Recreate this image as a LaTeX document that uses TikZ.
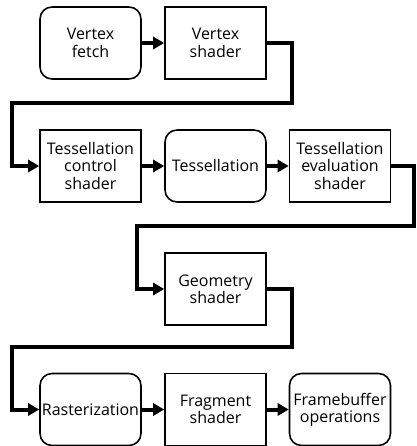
\documentclass[tikz,border=0pt]{standalone}
\usepackage{fontspec}
\setmainfont{Open Sans}
\usetikzlibrary{arrows.meta}
\tikzset{Prog/.style={draw,line width=0.9pt,minimum width=2.02cm,minimum height=1.44cm,
    align=center,font=\fontsize{9.1}{9.9}\selectfont,inner sep=1pt},
  Fixed/.style={Prog,rounded corners=0.24cm},
  flow/.style={line width=0.08cm,-{Triangle[length=0.22cm,width=0.24cm]}}}

\begin{document}
\begin{tikzpicture}[x=0.02cm,y=-0.02cm]
    \useasboundingbox (0,0) rectangle (416,446);
    \node[Fixed] (vf) at (90.5,43) {Vertex\\fetch};
    \node[Prog] (vs) at (215.5,43) {Vertex\\shader};
    \node[Prog] (tcs) at (90.5,166) {Tessellation\\control\\shader};
    \node[Fixed] (tess) at (215.5,166) {Tessellation};
    \node[Prog] (tes) at (340,166) {Tessellation\\evaluation\\shader};
    \node[Prog] (gs) at (215.5,289) {Geometry\\shader};
    \node[Fixed] (ras) at (90.5,409.5) {Rasterization};
    \node[Prog] (fs) at (215.5,409.5) {Fragment\\shader};
    \node[Fixed] (fbo) at (340,409.5) {Framebuffer\\operations};
    % turning points of the long connectors
    \coordinate (c1) at (292,103);
    \coordinate (c2) at (12,103);
    \coordinate (c3) at (413.5,226);
    \coordinate (c4) at (137,226);
    \coordinate (c5) at (292,347);
    \coordinate (c6) at (12,347);
    \begin{scope}[flow]
      \draw (vf) -- (vs);
      \draw (vs.east) -| (c1) -- (c2) |- (tcs.west);
      \draw (tcs) -- (tess);
      \draw (tess) -- (tes);
      \draw (tes.east) -| (c3) -- (c4) |- (gs.west);
      \draw (gs.east) -| (c5) -- (c6) |- (ras.west);
      \draw (ras) -- (fs);
      \draw (fs) -- (fbo);
    \end{scope}
  \end{tikzpicture}
\end{document}
